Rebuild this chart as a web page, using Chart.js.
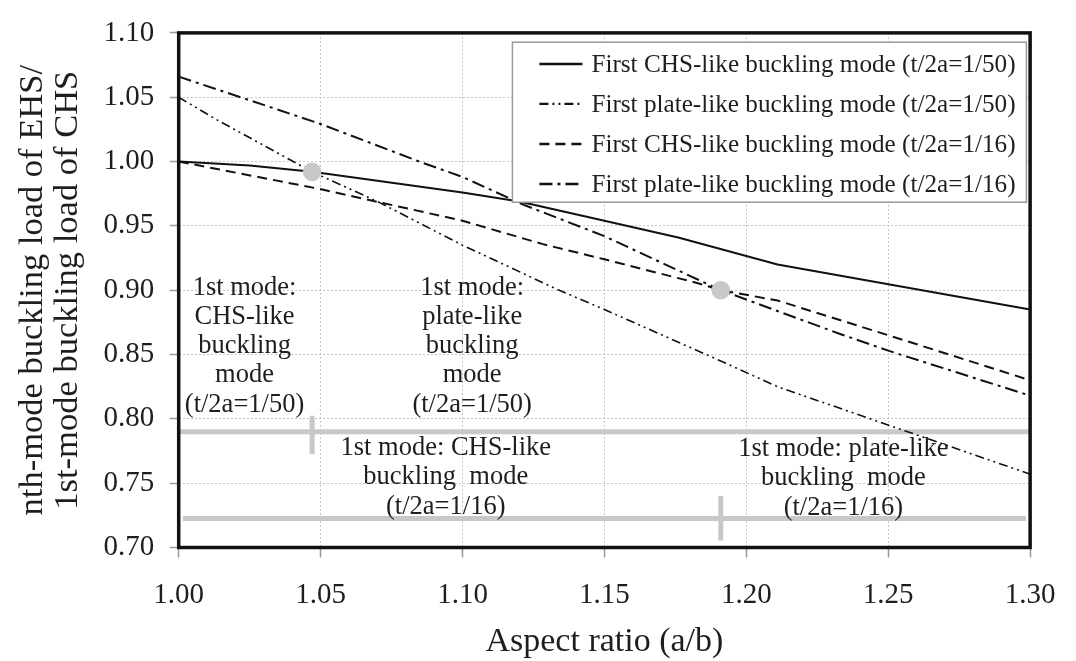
<!DOCTYPE html>
<html>
<head>
<meta charset="utf-8">
<title>Buckling load ratio vs aspect ratio</title>
<script src="https://cdn.jsdelivr.net/npm/chart.js@4.4.1/dist/chart.umd.min.js"></script>
<style>
  html, body { margin: 0; padding: 0; background: #fff; }
  #wrap { width: 1076px; height: 661px; }
</style>
</head>
<body>
<div id="wrap"><canvas id="buckleChart"></canvas></div>
<script>
// aspect ratio (a/b) and normalised buckling load, one pair per curve
const chs50X   = [1.00, 1.025, 1.047, 1.10, 1.12, 1.15, 1.176, 1.211, 1.30];
const chs50Y   = [1.000, 0.997, 0.992, 0.976, 0.969, 0.954, 0.941, 0.920, 0.885];
const plate50X = [1.00, 1.013, 1.047, 1.07, 1.10, 1.133, 1.15, 1.192, 1.211, 1.30];
const plate50Y = [1.050, 1.033, 0.992, 0.969, 0.935, 0.901, 0.885, 0.844, 0.825, 0.757];
const chs16X   = [1.00, 1.049, 1.10, 1.128, 1.15, 1.182, 1.191, 1.211, 1.25, 1.30];
const chs16Y   = [1.000, 0.979, 0.954, 0.936, 0.924, 0.906, 0.900, 0.892, 0.865, 0.830];
const plate16X = [1.00, 1.049, 1.086, 1.10, 1.122, 1.15, 1.191, 1.233, 1.25, 1.30];
const plate16Y = [1.066, 1.030, 0.999, 0.988, 0.966, 0.942, 0.900, 0.866, 0.853, 0.818];

// points where the first mode switches from CHS-like to plate-like
const switchX = [1.047, 1.191];
const switchY = [0.992, 0.900];

// mode range bars: level, extent and the switch marker on each bar
const barLevels  = [0.790, 0.7225];
const barFrom    = [1.000, 1.0015];
const barTo      = [1.300, 1.2985];
const markerTop  = [0.8025, 0.740];
const markerBot  = [0.7725, 0.7055];

const xTicks = [1.00, 1.05, 1.10, 1.15, 1.20, 1.25, 1.30];
const yTicks = [0.70, 0.75, 0.80, 0.85, 0.90, 0.95, 1.00, 1.05, 1.10];

const serif = '"Liberation Serif", "Times New Roman", serif';
const ink = '#1e1e1e';
const barGrey = '#c8c8c8';

function pts(xs, ys) {
  return xs.map((x, i) => ({ x: x, y: ys[i] }));
}

const curves = [
  { label: 'First CHS-like buckling mode (t/2a=1/50)', data: pts(chs50X, chs50Y), dash: [], width: 2 },
  { label: 'First plate-like buckling mode (t/2a=1/50)', data: pts(plate50X, plate50Y), dash: [9, 4, 2, 4, 2, 4], width: 1.6 },
  { label: 'First CHS-like buckling mode (t/2a=1/16)', data: pts(chs16X, chs16Y), dash: [10, 6], width: 2 },
  { label: 'First plate-like buckling mode (t/2a=1/16)', data: pts(plate16X, plate16Y), dash: [13, 5, 3, 5], width: 2 }
];

const datasets = [];
// switch markers on top of everything
datasets.push({
  data: pts(switchX, switchY), showLine: false, pointRadius: 9.3,
  pointBackgroundColor: barGrey, pointBorderWidth: 0, order: 0
});
curves.forEach(c => datasets.push({
  label: c.label, data: c.data, showLine: true, borderColor: '#111',
  borderWidth: c.width, borderDash: c.dash, pointRadius: 0, tension: 0,
  fill: false, order: 1, isCurve: true
}));
barLevels.forEach((lvl, i) => {
  datasets.push({
    data: [{ x: barFrom[i], y: lvl }, { x: barTo[i], y: lvl }], showLine: true,
    borderColor: barGrey, borderWidth: 5, pointRadius: 0, order: 2
  });
  datasets.push({
    data: [{ x: switchX[i], y: markerTop[i] }, { x: switchX[i], y: markerBot[i] }], showLine: true,
    borderColor: barGrey, borderWidth: 5, pointRadius: 0, order: 2
  });
});

// text notes placed in data units, lines stacked downwards
const notes = [
  { x: 1.0232, y: 0.902, lines: ['1st mode:', 'CHS-like', 'buckling', 'mode', '(t/2a=1/50)'] },
  { x: 1.1034, y: 0.902, lines: ['1st mode:', 'plate-like', 'buckling', 'mode', '(t/2a=1/50)'] },
  { x: 1.0941, y: 0.7773, lines: ['1st mode: CHS-like', 'buckling  mode', '(t/2a=1/16)'] },
  { x: 1.2342, y: 0.7765, lines: ['1st mode: plate-like', 'buckling  mode', '(t/2a=1/16)'] }
];

const overlay = {
  id: 'overlay',
  afterDatasetsDraw(chart) {
    const { ctx, chartArea: a, scales } = chart;
    ctx.save();

    // notes
    ctx.fillStyle = ink;
    ctx.font = '26.5px ' + serif;
    ctx.textAlign = 'center';
    ctx.textBaseline = 'middle';
    notes.forEach(n => {
      const px = scales.x.getPixelForValue(n.x);
      const py = scales.y.getPixelForValue(n.y);
      n.lines.forEach((t, i) => ctx.fillText(t, px, py + i * 29.3));
    });

    // legend box
    const lw = 514, lh = 160;
    const lx = a.right - 3.7 - lw, ly = a.top + 9.3;
    ctx.fillStyle = '#fff';
    ctx.fillRect(lx, ly, lw, lh);
    ctx.strokeStyle = '#9a9a9a';
    ctx.lineWidth = 1.5;
    ctx.strokeRect(lx, ly, lw, lh);
    ctx.font = '25.2px ' + serif;
    ctx.textAlign = 'left';
    chart.data.datasets.filter(d => d.isCurve).forEach((d, i) => {
      const cy = ly + 21.7 + i * 40;
      ctx.strokeStyle = '#111';
      ctx.lineWidth = d.borderWidth + 0.5;
      ctx.setLineDash(d.borderDash);
      ctx.beginPath();
      ctx.moveTo(lx + 27, cy);
      ctx.lineTo(lx + 70, cy);
      ctx.stroke();
      ctx.setLineDash([]);
      ctx.fillStyle = ink;
      ctx.fillText(d.label, lx + 79, cy + 1);
    });

    // plot frame
    ctx.strokeStyle = '#111';
    ctx.lineWidth = 3.5;
    ctx.strokeRect(a.left, a.top, a.right - a.left, a.bottom - a.top);
    ctx.restore();
  }
};

new Chart(document.getElementById('buckleChart'), {
  type: 'scatter',
  data: { datasets: datasets },
  options: {
    responsive: true,
    maintainAspectRatio: false,
    animation: false,
    layout: { padding: { left: 0, right: 34.3, top: 20.7, bottom: 0 } },
    plugins: {
      legend: { display: false },
      tooltip: { enabled: false }
    },
    scales: {
      x: {
        type: 'linear', min: 1.0, max: 1.3,
        afterBuildTicks: s => { s.ticks = xTicks.map(v => ({ value: v })); },
        afterFit: s => { s.height = 113.5; },
        ticks: {
          callback: v => Number(v).toFixed(2), autoSkip: false, maxRotation: 0,
          font: { family: serif, size: 29 }, color: ink, padding: 20.5
        },
        grid: { color: '#c6c6c6', lineWidth: 1, tickColor: '#9a9a9a', tickLength: 10, tickWidth: 1.5 },
        border: { display: false, dash: [2, 2] },
        title: {
          display: true, text: 'Aspect ratio (a/b)', color: ink,
          font: { family: serif, size: 34, lineHeight: 1.1 }, padding: { top: 0, bottom: 0 }
        }
      },
      y: {
        type: 'linear', min: 0.7, max: 1.1,
        afterBuildTicks: s => { s.ticks = yTicks.map(v => ({ value: v })); },
        afterFit: s => { s.width = 178.7; },
        ticks: {
          callback: v => Number(v).toFixed(2), autoSkip: false,
          font: { family: serif, size: 29 }, color: ink, padding: 15.5
        },
        grid: { color: '#c6c6c6', lineWidth: 1, tickColor: '#9a9a9a', tickLength: 9, tickWidth: 1.5 },
        border: { display: false, dash: [2, 2] },
        title: {
          display: true, color: ink,
          text: ['nth-mode buckling load of EHS/', '1st-mode buckling load of CHS'],
          font: { family: serif, size: 34.5, lineHeight: 1.02 }, padding: { top: 15.5, bottom: 0 }
        }
      }
    }
  },
  plugins: [overlay]
});
</script>
</body>
</html>
